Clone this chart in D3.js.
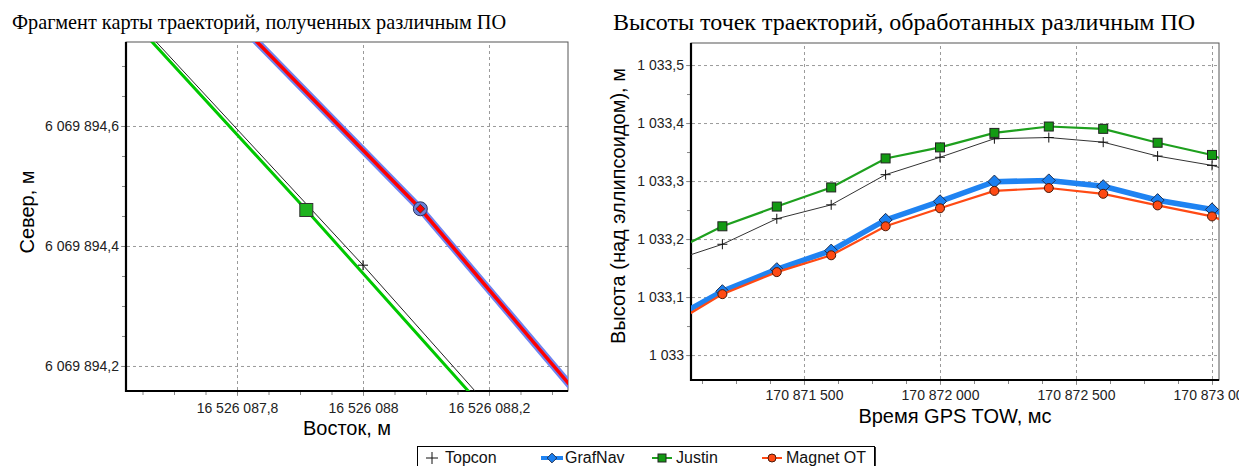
<!DOCTYPE html>
<html>
<head>
<meta charset="utf-8">
<script src="https://cdn.jsdelivr.net/npm/d3@7/dist/d3.min.js"></script>
<style>
    body { margin: 0; background: #fff; }
    svg { display: block; }
</style>
</head>
<body>
<svg id="chart" width="1239" height="466"></svg>
<script>

// ---- left panel: fragment of trajectories (East, North), m
var topconEast   = [16526087.559, 16526088.000, 16526088.424];
var topconNorth  = [6069894.868, 6069894.368, 6069893.868];
var grafnavEast  = [16526087.625, 16526088.091, 16526088.495];
var grafnavNorth = [6069894.962, 6069894.462, 6069893.962];
var justinEast   = [16526087.473, 16526087.910, 16526088.336];
var justinNorth  = [6069894.960, 6069894.460, 6069893.960];
var magnetEast   = [16526087.625, 16526088.091, 16526088.495];
var magnetNorth  = [6069894.962, 6069894.462, 6069893.962];

var eastDomain  = [16526087.6238, 16526088.3254];
var northDomain = [6069894.1583, 6069894.74];
var eastTicks   = [16526087.8, 16526088.0, 16526088.2];
var northTicks  = [6069894.2, 6069894.4, 6069894.6];

// ---- right panel: heights of trajectory points
var gpsTime  = [170871000, 170871200, 170871400, 170871600, 170871800, 170872000,
                170872200, 170872400, 170872600, 170872800, 170873000, 170873200];
var topconH  = [1033.160, 1033.191, 1033.235, 1033.259, 1033.311, 1033.341,
                1033.373, 1033.375, 1033.367, 1033.343, 1033.327, 1033.300];
var grafnavH = [1033.058, 1033.110, 1033.148, 1033.180, 1033.233, 1033.265,
                1033.299, 1033.301, 1033.291, 1033.267, 1033.251, 1033.215];
var justinH  = [1033.175, 1033.222, 1033.256, 1033.289, 1033.339, 1033.358,
                1033.383, 1033.394, 1033.390, 1033.366, 1033.345, 1033.305];
var magnetH  = [1033.049, 1033.105, 1033.143, 1033.172, 1033.222, 1033.253,
                1033.283, 1033.288, 1033.278, 1033.258, 1033.239, 1033.205];

var timeDomain   = [170871084.6, 170873025.7];
var heightDomain = [1032.957, 1033.538];
var timeTicks    = [170871500, 170872000, 170872500, 170873000];
var heightTicks  = [1033.0, 1033.1, 1033.2, 1033.3, 1033.4, 1033.5];

var seriesNames = ["Topcon", "GrafNav", "Justin", "Magnet OT"];

var ru = d3.formatLocale({decimal: ",", thousands: " ", grouping: [3], currency: ["", ""]});
var fmtDec = ru.format(",.1~f");
var fmtInt = ru.format(",d");

var svg = d3.select("#chart");
var gridColor = "#9a9a9a";

function zip(xs, ys) {
    return xs.map(function(x, i) { return [x, ys[i]]; });
}

// frame, grid, major + minor ticks for one panel
function drawPanel(id, box, x, y, xt, yt, xMinor, yMinor, xFmt, yFmt, xPad) {
    var g = svg.append("g");

    svg.append("clipPath").attr("id", id)
        .append("rect")
        .attr("x", box.x0).attr("y", box.y0)
        .attr("width", box.x1 - box.x0).attr("height", box.y1 - box.y0);

    // grid (dashed), extends a little outside as the major tick
    g.append("g")
        .attr("transform", "translate(0," + (box.y1 + 5) + ")")
        .call(d3.axisBottom(x).tickValues(xt).tickSize(-(box.y1 - box.y0) - 5).tickFormat(""));
    g.append("g")
        .attr("transform", "translate(" + (box.x0 - 5) + ",0)")
        .call(d3.axisLeft(y).tickValues(yt).tickSize(-(box.x1 - box.x0) - 5).tickFormat(""));
    g.selectAll(".domain").remove();
    g.selectAll(".tick line")
        .attr("stroke", gridColor)
        .attr("stroke-dasharray", "3,3");

    // minor ticks
    var gm = svg.append("g");
    gm.append("g")
        .attr("transform", "translate(0," + box.y1 + ")")
        .call(d3.axisBottom(x).tickValues(xMinor).tickSize(4).tickFormat(""));
    gm.append("g")
        .attr("transform", "translate(" + box.x0 + ",0)")
        .call(d3.axisLeft(y).tickValues(yMinor).tickSize(4).tickFormat(""));
    gm.selectAll(".domain").remove();
    gm.selectAll(".tick line").attr("stroke", "#888");

    // tick labels
    var gl = svg.append("g");
    gl.append("g")
        .attr("transform", "translate(0," + box.y1 + ")")
        .call(d3.axisBottom(x).tickValues(xt).tickSize(5).tickPadding(xPad).tickFormat(xFmt));
    gl.append("g")
        .attr("transform", "translate(" + box.x0 + ",0)")
        .call(d3.axisLeft(y).tickValues(yt).tickSize(5).tickPadding(2).tickFormat(yFmt));
    gl.selectAll(".domain").remove();
    gl.selectAll(".tick line").remove();
    gl.selectAll(".tick text")
        .attr("fill", "#222")
        .attr("font-family", "Liberation Sans, Arial, sans-serif")
        .attr("font-size", 14);

    // frame: thin top/right, heavy left/bottom
    svg.append("rect")
        .attr("x", box.x0).attr("y", box.y0)
        .attr("width", box.x1 - box.x0).attr("height", box.y1 - box.y0)
        .attr("fill", "none").attr("stroke", "#555").attr("stroke-width", 1);
    svg.append("path")
        .attr("d", "M" + box.x0 + "," + box.y0 + "V" + box.y1 + "H" + box.x1)
        .attr("fill", "none").attr("stroke", "#000").attr("stroke-width", 2.2);

    return svg.append("g").attr("clip-path", "url(#" + id + ")");
}

function minorTicks(domain, step) {
    var a = Math.ceil(domain[0] / step), b = Math.floor(domain[1] / step);
    return d3.range(a, b + 1).map(function(i) { return i * step; });
}

function plusPath(s) {
    return "M" + (-s) + ",0H" + s + "M0," + (-s) + "V" + s;
}

// ================= left panel =================
var lBox = {x0: 126, x1: 568, y0: 42, y1: 391};
var lx = d3.scaleLinear().domain(eastDomain).range([lBox.x0, lBox.x1]);
var ly = d3.scaleLinear().domain(northDomain).range([lBox.y1, lBox.y0]);

var lPlot = drawPanel("clipL", lBox, lx, ly, eastTicks, northTicks,
    minorTicks(eastDomain, 0.05), minorTicks(northDomain, 0.05), fmtDec, fmtDec, 7);

var lLine = d3.line().x(function(d) { return lx(d[0]); }).y(function(d) { return ly(d[1]); });

var justinXY  = zip(justinEast, justinNorth);
var topconXY  = zip(topconEast, topconNorth);
var grafnavXY = zip(grafnavEast, grafnavNorth);
var magnetXY  = zip(magnetEast, magnetNorth);

lPlot.append("path").datum(justinXY).attr("d", lLine)
    .attr("fill", "none").attr("stroke", "#00c800").attr("stroke-width", 3);
lPlot.append("path").datum(topconXY).attr("d", lLine)
    .attr("fill", "none").attr("stroke", "#222").attr("stroke-width", 1);
lPlot.append("path").datum(grafnavXY).attr("d", lLine)
    .attr("fill", "none").attr("stroke", "#6f84f0").attr("stroke-width", 7.5);
lPlot.append("path").datum(magnetXY).attr("d", lLine)
    .attr("fill", "none").attr("stroke", "#ff0000").attr("stroke-width", 3.5);

lPlot.selectAll(".ljust").data(justinXY).enter().append("rect")
    .attr("x", function(d) { return lx(d[0]) - 6.5; })
    .attr("y", function(d) { return ly(d[1]) - 6.5; })
    .attr("width", 13).attr("height", 13)
    .attr("fill", "#1fb31f").attr("stroke", "#333").attr("stroke-width", 1);
lPlot.selectAll(".ltop").data(topconXY).enter().append("path")
    .attr("transform", function(d) { return "translate(" + lx(d[0]) + "," + ly(d[1]) + ")"; })
    .attr("d", plusPath(5)).attr("stroke", "#000").attr("stroke-width", 1);
lPlot.selectAll(".lgraf").data(grafnavXY).enter().append("circle")
    .attr("cx", function(d) { return lx(d[0]); })
    .attr("cy", function(d) { return ly(d[1]); })
    .attr("r", 7).attr("fill", "#6a7fd8").attr("stroke", "#2a3560").attr("stroke-width", 1);
lPlot.selectAll(".lmag").data(magnetXY).enter().append("path")
    .attr("transform", function(d) { return "translate(" + lx(d[0]) + "," + ly(d[1]) + ")"; })
    .attr("d", d3.symbol().type(d3.symbolDiamond2).size(50))
    .attr("fill", "#ff0000").attr("stroke", "#333").attr("stroke-width", 0.8);

// ================= right panel =================
var rBox = {x0: 691, x1: 1219, y0: 43, y1: 380};
var rx = d3.scaleLinear().domain(timeDomain).range([rBox.x0, rBox.x1]);
var ry = d3.scaleLinear().domain(heightDomain).range([rBox.y1, rBox.y0]);

var rPlot = drawPanel("clipR", rBox, rx, ry, timeTicks, heightTicks,
    minorTicks(timeDomain, 125), minorTicks(heightDomain, 0.05), fmtInt, fmtDec, 5);

var rLine = d3.line().x(function(d) { return rx(d[0]); }).y(function(d) { return ry(d[1]); });

var topconTH  = zip(gpsTime, topconH);
var grafnavTH = zip(gpsTime, grafnavH);
var justinTH  = zip(gpsTime, justinH);
var magnetTH  = zip(gpsTime, magnetH);

rPlot.append("path").datum(topconTH).attr("d", rLine)
    .attr("fill", "none").attr("stroke", "#333").attr("stroke-width", 1);
rPlot.selectAll(".rtop").data(topconTH).enter().append("path")
    .attr("transform", function(d) { return "translate(" + rx(d[0]) + "," + ry(d[1]) + ")"; })
    .attr("d", plusPath(5)).attr("stroke", "#111").attr("stroke-width", 1);

rPlot.append("path").datum(grafnavTH).attr("d", rLine)
    .attr("fill", "none").attr("stroke", "#1f83f2").attr("stroke-width", 5.5);
rPlot.selectAll(".rgraf").data(grafnavTH).enter().append("path")
    .attr("transform", function(d) { return "translate(" + rx(d[0]) + "," + ry(d[1]) + ")"; })
    .attr("d", d3.symbol().type(d3.symbolDiamond2).size(110))
    .attr("fill", "#1a7ff0").attr("stroke", "#203050").attr("stroke-width", 1);

rPlot.append("path").datum(justinTH).attr("d", rLine)
    .attr("fill", "none").attr("stroke", "#1ea01e").attr("stroke-width", 2.2);
rPlot.selectAll(".rjust").data(justinTH).enter().append("rect")
    .attr("x", function(d) { return rx(d[0]) - 4.5; })
    .attr("y", function(d) { return ry(d[1]) - 4.5; })
    .attr("width", 9).attr("height", 9)
    .attr("fill", "#139a13").attr("stroke", "#222").attr("stroke-width", 1);

rPlot.append("path").datum(magnetTH).attr("d", rLine)
    .attr("fill", "none").attr("stroke", "#ff4a14").attr("stroke-width", 2.2);
rPlot.selectAll(".rmag").data(magnetTH).enter().append("circle")
    .attr("cx", function(d) { return rx(d[0]); })
    .attr("cy", function(d) { return ry(d[1]); })
    .attr("r", 4.5).attr("fill", "#ff4a14").attr("stroke", "#4a1a0a").attr("stroke-width", 1);

// ================= titles and axis names =================
var serif = "Liberation Serif, Times New Roman, serif";
var sans = "Liberation Sans, Arial, sans-serif";

svg.append("text").attr("x", 12).attr("y", 29)
    .attr("font-family", serif).attr("font-size", 20.3).attr("fill", "#000")
    .text("Фрагмент карты траекторий, полученных различным ПО");
svg.append("text").attr("x", 613).attr("y", 30)
    .attr("font-family", serif).attr("font-size", 24).attr("fill", "#000")
    .text("Высоты точек траекторий, обработанных различным ПО");

svg.append("text").attr("x", (lBox.x0 + lBox.x1) / 2).attr("y", 435)
    .attr("text-anchor", "middle").attr("font-family", sans).attr("font-size", 20)
    .text("Восток, м");
svg.append("text").attr("x", (rBox.x0 + rBox.x1) / 2).attr("y", 423)
    .attr("text-anchor", "middle").attr("font-family", sans).attr("font-size", 20)
    .text("Время GPS TOW, мс");

svg.append("text").attr("transform", "translate(34,212) rotate(-90)")
    .attr("text-anchor", "middle").attr("font-family", sans).attr("font-size", 20)
    .text("Север, м");
svg.append("text").attr("transform", "translate(625,206) rotate(-90)")
    .attr("text-anchor", "middle").attr("font-family", sans).attr("font-size", 20)
    .text("Высота (над эллипсоидом), м");

// ================= legend =================
var legend = svg.append("g").attr("transform", "translate(417,446)");
legend.append("rect").attr("x", 0.5).attr("y", 0.5).attr("width", 457).attr("height", 40)
    .attr("fill", "#fff").attr("stroke", "#000").attr("stroke-width", 1);
legend.append("line").attr("x1", 458.5).attr("x2", 458.5).attr("y1", 1).attr("y2", 40)
    .attr("stroke", "#333").attr("stroke-width", 1);

var legX = [10, 126, 237, 347];
var legY = 12;
var item = legend.selectAll(".item").data(seriesNames).enter().append("g")
    .attr("transform", function(d, i) { return "translate(" + legX[i] + "," + legY + ")"; });

item.append("text").attr("x", function(d, i) { return i == 0 ? 18 : 22; }).attr("y", 5)
    .attr("font-family", sans).attr("font-size", 16).attr("fill", "#111")
    .text(function(d) { return d; });

// markers in legend
item.filter(function(d, i) { return i == 0; }).append("path")
    .attr("d", plusPath(6)).attr("transform", "translate(5,0)")
    .attr("stroke", "#111").attr("stroke-width", 1);
item.filter(function(d, i) { return i == 1; }).append("line")
    .attr("x1", -2).attr("x2", 20).attr("stroke", "#1f83f2").attr("stroke-width", 4);
item.filter(function(d, i) { return i == 1; }).append("path")
    .attr("transform", "translate(9,0)")
    .attr("d", d3.symbol().type(d3.symbolDiamond2).size(60))
    .attr("fill", "#1a7ff0").attr("stroke", "#203050");
item.filter(function(d, i) { return i == 2; }).append("line")
    .attr("x1", -2).attr("x2", 18).attr("stroke", "#1ea01e").attr("stroke-width", 2);
item.filter(function(d, i) { return i == 2; }).append("rect")
    .attr("x", 4).attr("y", -4).attr("width", 8).attr("height", 8)
    .attr("fill", "#139a13").attr("stroke", "#222");
item.filter(function(d, i) { return i == 3; }).append("line")
    .attr("x1", -2).attr("x2", 18).attr("stroke", "#ff4a14").attr("stroke-width", 2);
item.filter(function(d, i) { return i == 3; }).append("circle")
    .attr("cx", 8).attr("r", 4).attr("fill", "#ff4a14").attr("stroke", "#4a1a0a");

</script>
</body>
</html>
